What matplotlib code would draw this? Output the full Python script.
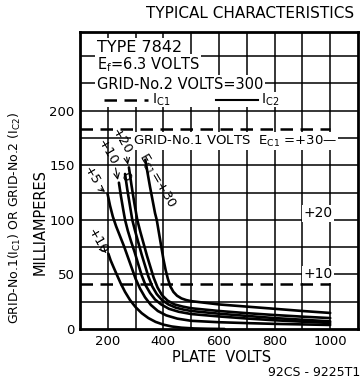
import matplotlib
matplotlib.use("Agg")
import matplotlib.pyplot as plt

plt.rcParams['font.family'] = ['DejaVu Sans']
plt.rcParams['mathtext.default'] = 'regular'

# plate volts / milliamperes (solid = grid-No.2 current)
v_m10 = [202, 210, 220, 232, 246, 262, 280, 300, 322, 346, 372, 400, 430, 465, 510, 560, 620]
i_m10 = [69, 63, 57, 50, 42, 34, 26.5, 20, 14.5, 10, 6.5, 4, 2.3, 1.2, 0.5, 0.2, 0]

v_p5 = [199, 208, 218, 230, 244, 258, 272, 286, 300, 316, 334, 355, 380, 410, 450, 500, 600, 700, 800, 900, 1000]
i_p5 = [124, 113, 103, 94, 85, 76, 66, 56, 46, 37, 29, 22, 16.5, 12.5, 9.5, 7.5, 6.2, 5.4, 4.7, 4.2, 3.7]

v_0 = [240, 247, 255, 262, 272, 284, 297, 310, 322, 336, 352, 370, 392, 420, 455, 500, 600, 700, 800, 900, 1000]
i_0 = [134, 122, 110, 100, 90, 80, 70, 59, 49, 40, 33, 27, 22.5, 18.5, 15.8, 13.7, 11.5, 9.6, 8, 6.7, 5.5]

v_p10 = [262, 270, 279, 288, 298, 310, 322, 334, 346, 360, 376, 395, 418, 445, 472, 500, 600, 700, 800, 900, 1000]
i_p10 = [142, 128, 114, 100, 90, 79, 68, 58, 48, 39, 32, 26.5, 22.5, 19.5, 17.8, 16.5, 14, 12, 10, 8.5, 7]

v_p20 = [276, 285, 295, 306, 317, 329, 341, 353, 365, 379, 395, 415, 440, 470, 500, 600, 700, 800, 900, 1000]
i_p20 = [148, 132, 116, 100, 89, 78, 67, 57, 47, 38, 31, 26, 22.5, 20.5, 19, 16.5, 14.5, 12.8, 11.3, 10]

v_p30 = [335, 343, 352, 361, 370, 376, 384, 392, 400, 408, 416, 425, 436, 449, 465, 482, 500, 600, 700, 800, 900, 1000]
i_p30 = [155, 143, 130, 118, 106, 100, 88, 76, 64, 54, 46, 39, 34, 30.5, 28, 26.5, 25.5, 22.5, 20.5, 18.5, 16.5, 14.7]

# grid-No.1 current (dashed) levels, Ec1 = +30 and +10
ic1_levels = [183, 41]

xticks = [200, 400, 600, 800, 1000]
yticks = [0, 50, 100, 150, 200]

fig = plt.figure(figsize=(3.62, 3.82), dpi=100)
ax = fig.add_axes([80 / 362, 1 - 329 / 382, 278 / 362, 297 / 382])
ax.set_xlim(100, 1100)
ax.set_ylim(0, 272)

# grid
for x in range(200, 1100, 100):
    ax.axvline(x, color='black', lw=1.1, zorder=1)
for y in range(25, 275, 25):
    ax.axhline(y, color='black', lw=1.1, zorder=1)

for sp in ax.spines.values():
    sp.set_linewidth(2)

ax.set_xticks(xticks)
ax.set_yticks(yticks)
ax.tick_params(length=0, labelsize=9.5, pad=4)
ax.set_yticklabels([str(t) for t in yticks])

# Ic1 dashed lines
for lvl in ic1_levels:
    ax.plot([100, 1000], [lvl, lvl], color='black', lw=1.8, ls=(0, (5, 3)), zorder=3)

# Ic2 curves
for v, i in [(v_m10, i_m10), (v_p5, i_p5), (v_0, i_0), (v_p10, i_p10), (v_p20, i_p20), (v_p30, i_p30)]:
    ax.plot(v, i, color='black', lw=1.9, zorder=4, solid_capstyle='round', solid_joinstyle='round')

box = dict(facecolor='white', edgecolor='none', pad=1)

ax.text(160, 258, 'TYPE 7842', fontsize=11.5, va='center', bbox=box, zorder=5)
ax.text(160, 242, 'E$_f$=6.3 VOLTS', fontsize=10.5, va='center', bbox=box, zorder=5)
ax.text(160, 224, 'GRID-No.2 VOLTS=300', fontsize=10.5, va='center', bbox=box, zorder=5)

# legend row
ax.add_patch(plt.Rectangle((175, 203), 670, 14, facecolor='white', edgecolor='none', zorder=5))
ax.plot([185, 345], [210, 210], color='black', lw=1.8, ls=(0, (5, 3)), zorder=6)
ax.text(358, 210, 'I$_{C1}$', fontsize=10, va='center', zorder=6)
ax.plot([588, 740], [210, 210], color='black', lw=1.5, zorder=6)
ax.text(752, 210, 'I$_{C2}$', fontsize=10, va='center', zorder=6)

ax.text(290, 172, 'GRID-No.1 VOLTS  E$_{C1}$ =+30\u2014', fontsize=9.5, va='center', bbox=box, zorder=5)
ax.text(905, 106, '+20', fontsize=10, va='center', bbox=box, zorder=5)
ax.text(905, 50, '+10', fontsize=10, va='center', bbox=box, zorder=5)

# curve labels
lab = dict(fontsize=9.5, rotation=-60, ha='center', va='center', zorder=6)
ax.text(143, 140, '+5', **lab)
ax.text(199, 162, '+10', **lab)
ax.text(248, 172, '+20', **lab)
ax.text(262, 139, '0', **lab)
ax.text(378, 136, 'E$_{C1}$=+30', **lab)
ax.text(165, 80, '+10', **lab)

arr = dict(arrowstyle='->', lw=0.8, color='black')
ax.annotate('', xy=(198, 124), xytext=(168, 130), arrowprops=arr, zorder=6)
ax.annotate('', xy=(238, 134), xytext=(226, 150), arrowprops=arr, zorder=6)
ax.annotate('', xy=(274, 148), xytext=(266, 160), arrowprops=arr, zorder=6)
ax.annotate('', xy=(200, 68), xytext=(186, 72), arrowprops=arr, zorder=6)

fig.text(250 / 362, 1 - 14 / 382, 'TYPICAL CHARACTERISTICS', fontsize=11, ha='center', va='center')
fig.text(222 / 362, 1 - 357 / 382, 'PLATE  VOLTS', fontsize=10.5, ha='center', va='center')
fig.text(360 / 362, 1 - 373 / 382, '92CS - 9225T1', fontsize=9, ha='right', va='center')
fig.text(15 / 362, 1 - 218 / 382, 'GRID-No.1(I$_{C1}$) OR GRID-No.2 (I$_{C2}$)', fontsize=9,
         rotation=90, ha='center', va='center')
fig.text(40 / 362, 1 - 222 / 382, 'MILLIAMPERES', fontsize=10.5, rotation=90, ha='center', va='center')

fig.savefig('out.png', dpi=100)
